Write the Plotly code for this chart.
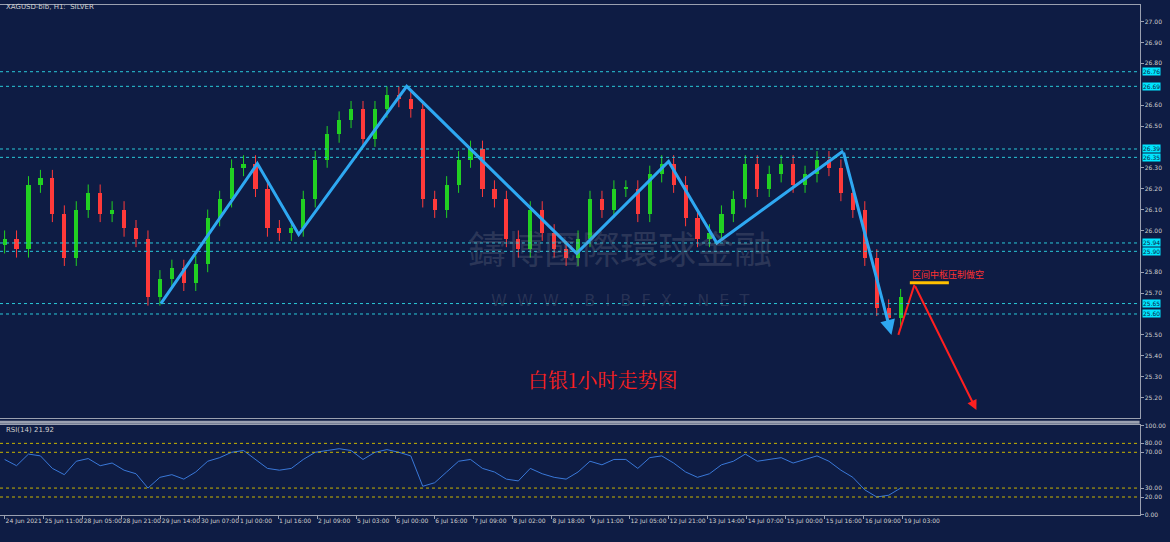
import plotly.graph_objects as go

closes = [25.96,25.91,26.22,26.25,26.08,25.87,26.10,26.18,26.08,26.10,26.01,25.96,25.68,25.77,25.82,25.75,25.84,26.06,26.15,26.30,
          26.32,26.20,26.01,25.99,26.01,26.15,26.34,26.46,26.53,26.58,26.44,26.58,26.65,26.63,26.58,26.15,26.10,26.22,26.34,26.39,
          26.20,26.15,25.96,25.91,26.10,25.99,25.91,25.87,25.96,26.15,26.10,26.20,26.20,26.08,26.27,26.32,26.22,26.06,25.96,25.99,
          26.08,26.15,26.32,26.20,26.27,26.32,26.22,26.27,26.34,26.30,26.18,26.10,25.87,25.63,25.58,25.68]
rsi = [62,55,68,66,52,45,60,63,55,58,50,46,30,42,45,40,48,60,64,70,
       72,62,52,50,52,62,70,72,74,72,62,70,73,70,66,32,36,48,60,62,
       52,48,40,38,52,46,42,40,48,60,56,62,62,52,64,66,58,48,42,46,
       56,60,68,60,62,64,58,62,66,60,50,42,28,20,22,30]
tick_labels = ["24 Jun 2021","25 Jun 11:00","28 Jun 05:00","28 Jun 21:00","29 Jun 14:00","30 Jun 07:00",
               "1 Jul 00:00","1 Jul 16:00","2 Jul 09:00","5 Jul 03:00","6 Jul 00:00","6 Jul 16:00",
               "7 Jul 09:00","8 Jul 02:00","8 Jul 18:00","9 Jul 11:00","12 Jul 05:00","12 Jul 21:00",
               "13 Jul 14:00","14 Jul 07:00","15 Jul 00:00","15 Jul 16:00","16 Jul 09:00","19 Jul 03:00"]
price_ticks = [25.20,25.30,25.40,25.50,25.70,25.80,26.00,26.10,26.20,26.30,26.50,26.60,26.80,26.90,27.00]
levels = [26.76, 26.69, 26.39, 26.35, 25.94, 25.90, 25.65, 25.60]
zig_x = [70,112,130,177,251,291,312,367,388]
zig_y = [25.65,26.32,25.98,26.69,25.89,26.33,25.94,26.38,25.50]
red_x = [391,398,425]
red_y = [25.50,25.74,25.14]
yellow_x = [396,413]
yellow_y = [25.75,25.75]

n = min(len(closes), len(rsi))
xs = [2 + i*5.2 for i in range(n)]
opens = [closes[0]-0.03] + closes[:n-1]
highs = [max(o, c)+0.04 for o, c in zip(opens, closes)]
lows = [min(o, c)-0.04 for o, c in zip(opens, closes)]
UP, DN = "#22d022", "#ff3a3a"
cols = [UP if c >= o else DN for o, c in zip(opens, closes)]

BG = "#0e1c44"
fig = go.Figure()
for col in (UP, DN):
    wx, wy = [], []
    for x, h, l, c in zip(xs, highs, lows, cols):
        if c == col:
            wx += [x, x, None]; wy += [l, h, None]
    fig.add_trace(go.Scatter(x=wx, y=wy, mode="lines", line=dict(color=col, width=1),
                             xaxis="x", yaxis="y", showlegend=False, hoverinfo="skip"))
fig.add_trace(go.Bar(x=xs, base=[min(o, c) for o, c in zip(opens, closes)],
                     y=[max(abs(c-o), 0.005) for o, c in zip(opens, closes)], width=1.8,
                     marker=dict(color=cols, line=dict(width=0)), xaxis="x", yaxis="y", showlegend=False))
fig.add_trace(go.Scatter(x=zig_x[:-1], y=zig_y[:-1], mode="lines", line=dict(color="#2ea8f2", width=3),
                         xaxis="x", yaxis="y", showlegend=False))
fig.add_trace(go.Scatter(x=red_x[:2], y=red_y[:2], mode="lines", line=dict(color="#ff2020", width=2),
                         xaxis="x", yaxis="y", showlegend=False))
fig.add_trace(go.Scatter(x=yellow_x, y=yellow_y, mode="lines", line=dict(color="#ffc000", width=3),
                         xaxis="x", yaxis="y", showlegend=False))
fig.add_trace(go.Scatter(x=xs, y=rsi[:n], mode="lines", line=dict(color="#3a78d8", width=1),
                         xaxis="x2", yaxis="y2", showlegend=False))

shapes = []
anns = []
for lv in levels:
    shapes.append(dict(type="line", xref="x", yref="y", x0=0, x1=496, y0=lv, y1=lv,
                       line=dict(color="#2ac8d8", width=1, dash="dot")))
    anns.append(dict(xref="paper", yref="y", x=0.976, y=lv, text=f"{lv:.2f}", showarrow=False,
                     xanchor="left", font=dict(size=6, color="#0e1c44"), bgcolor="#00e5ff", borderpad=0))
for lv in [20, 30, 70, 80]:
    shapes.append(dict(type="line", xref="x2", yref="y2", x0=0, x1=496, y0=lv, y1=lv,
                       line=dict(color="#c8b400", width=1, dash="dot")))
shapes.append(dict(type="line", xref="paper", yref="paper", x0=0, x1=0.974, y0=0.221, y1=0.221,
                   line=dict(color="#9aa0b0", width=3)))
anns.append(dict(xref="x", yref="y", axref="x", ayref="y", x=zig_x[-1], y=zig_y[-1], ax=zig_x[-2], ay=zig_y[-2],
                 showarrow=True, arrowhead=2, arrowsize=1, arrowwidth=3, arrowcolor="#2ea8f2", text=""))
anns.append(dict(xref="x", yref="y", axref="x", ayref="y", x=red_x[2], y=red_y[2], ax=red_x[1], ay=red_y[1],
                 showarrow=True, arrowhead=2, arrowsize=1, arrowwidth=2, arrowcolor="#ff2020", text=""))
anns += [
    dict(xref="x", yref="y", x=396, y=25.79, text="区间中枢压制做空", showarrow=False, xanchor="left",
         font=dict(size=9, color="#ff3030", family="Noto Sans CJK SC")),
    dict(xref="paper", yref="paper", x=0.515, y=0.27, text="白银1小时走势图", showarrow=False,
         font=dict(size=20, color="#ff2020", family="Noto Serif CJK SC, Noto Sans CJK SC")),
    dict(xref="paper", yref="paper", x=0.53, y=0.545, text="鑄博國際環球金融", showarrow=False,
         font=dict(size=38, color="rgba(150,150,160,0.22)", family="Noto Sans CJK TC")),
    dict(xref="paper", yref="paper", x=0.53, y=0.445, text="W  W  W  .  B  I  B  F  X  .  N  E  T", showarrow=False,
         font=dict(size=16, color="rgba(150,150,160,0.2)")),
    dict(xref="paper", yref="paper", x=0.003, y=0.998, text="XAGUSD-bib, H1:  SILVER", showarrow=False,
         xanchor="left", yanchor="top", font=dict(size=7, color="#d0d0d0")),
    dict(xref="paper", yref="paper", x=0.003, y=0.218, text="RSI(14) 21.92", showarrow=False,
         xanchor="left", yanchor="top", font=dict(size=7, color="#d0d0d0")),
]

tickvals = [2 + 17*k for k in range(len(tick_labels))]
ax_common = dict(showgrid=False, zeroline=False, showline=True, linecolor="#9aa0b0", mirror=True, automargin=False)
fig.update_layout(
    width=1170, height=542, paper_bgcolor=BG, plot_bgcolor=BG, bargap=0,
    margin=dict(l=0, r=0, t=0, b=0, autoexpand=False), shapes=shapes, annotations=anns,
    font=dict(family="DejaVu Sans", color="#d0d0d0", size=6),
    xaxis=dict(domain=[0, 0.974], range=[0, 496], anchor="y", showticklabels=False, **ax_common),
    yaxis=dict(domain=[0.228, 0.991], range=[25.10, 27.08], side="right",
               tickvals=price_ticks, tickformat=".2f", ticks="outside", ticklen=3,
               tickcolor="#9aa0b0", tickfont=dict(size=6), **ax_common),
    xaxis2=dict(domain=[0, 0.974], range=[0, 496], anchor="y2", tickvals=tickvals, ticktext=tick_labels,
                ticks="outside", ticklen=3, tickcolor="#9aa0b0", tickfont=dict(size=6), tickangle=0,
                ticklabelposition="outside right", **ax_common),
    yaxis2=dict(domain=[0.05, 0.215], range=[0, 100], side="right", anchor="x2",
                tickvals=[0, 20, 30, 70, 80, 100], tickformat=".2f", ticks="outside", ticklen=3,
                tickcolor="#9aa0b0", tickfont=dict(size=6), **ax_common),
)
fig.write_html("out.html", config={"displayModeBar": False},
               post_script="document.body.style.margin='0';document.body.style.background='%s';" % BG)
